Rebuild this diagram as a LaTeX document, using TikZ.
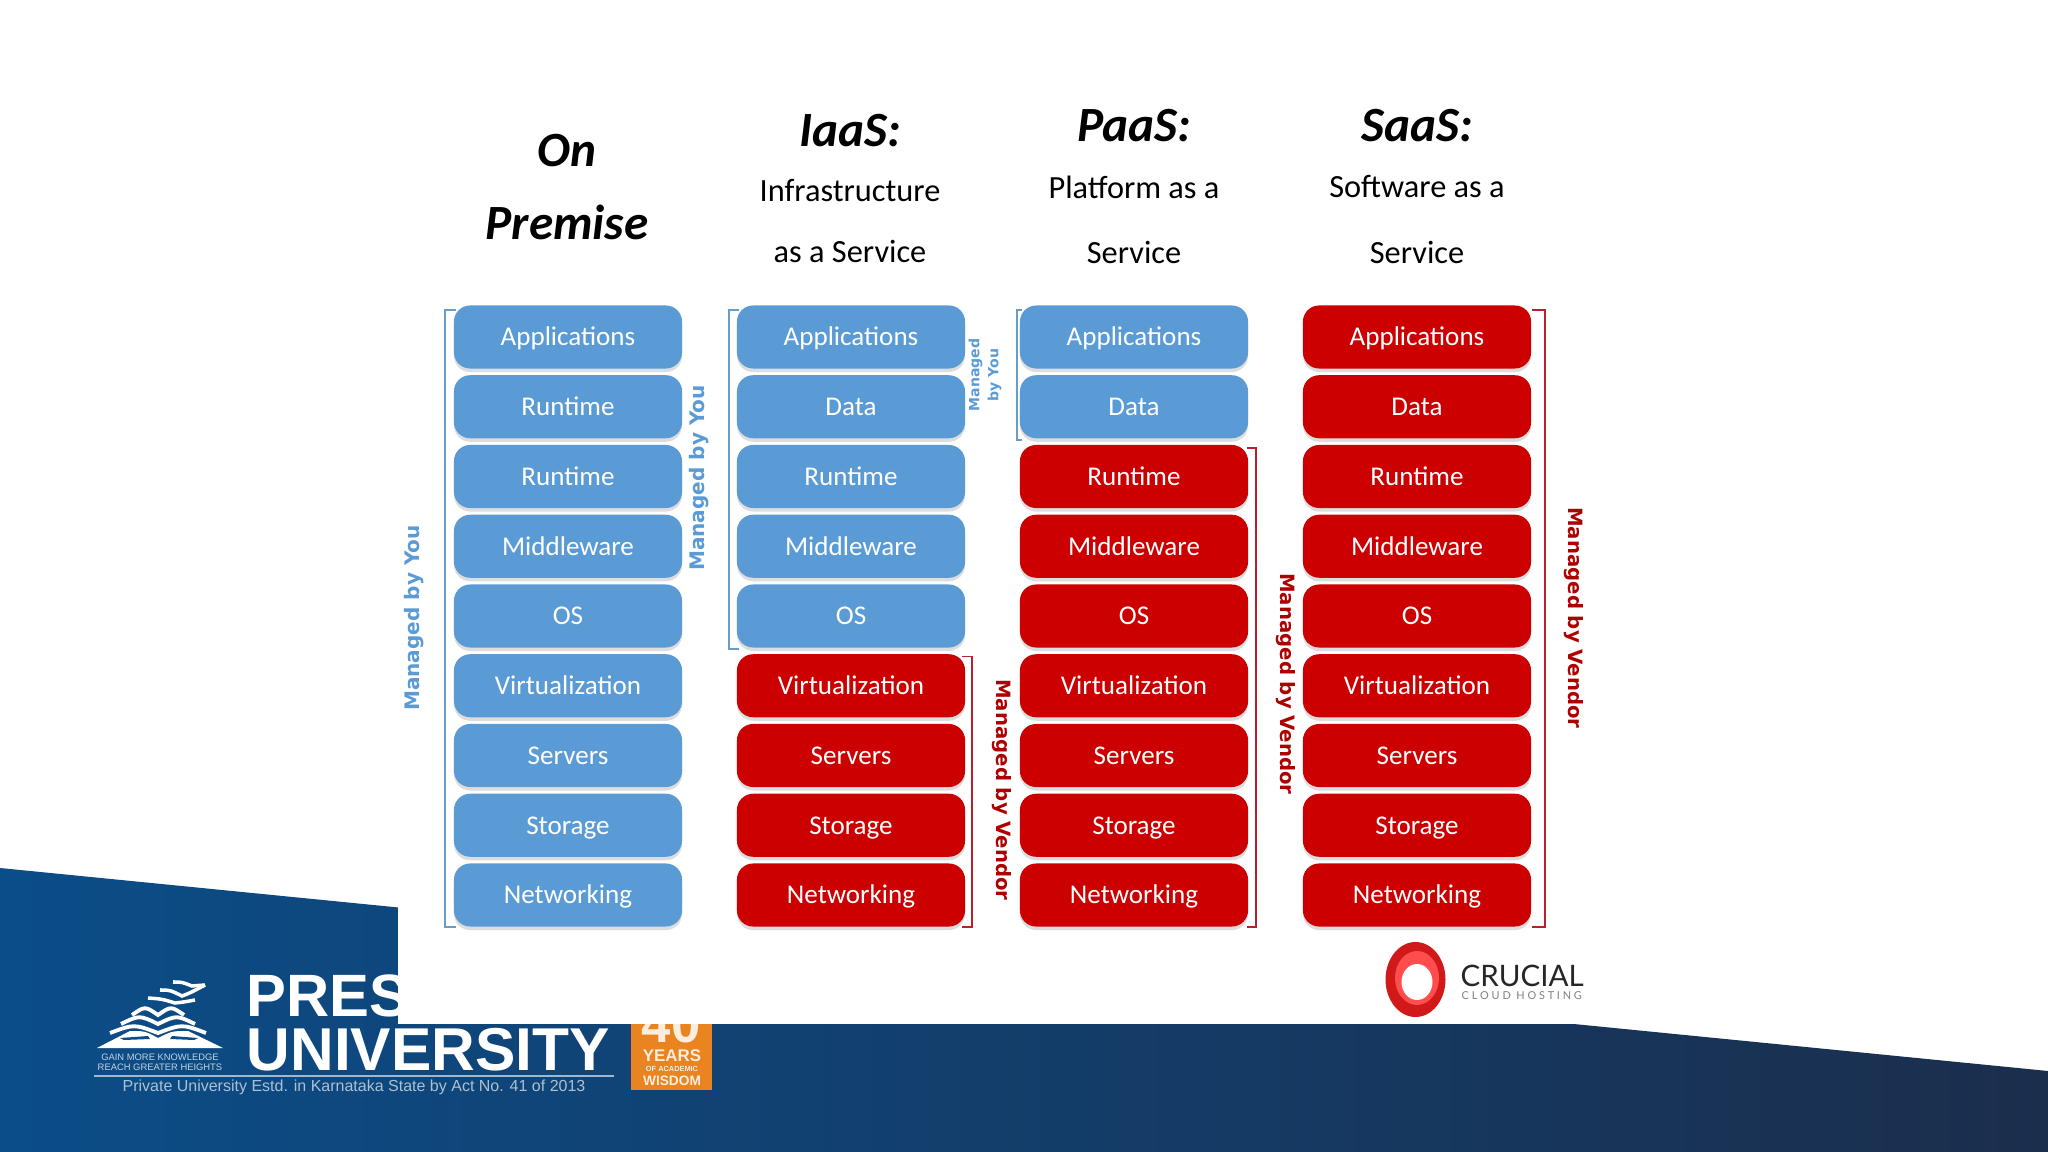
\documentclass[tikz,border=0pt]{standalone}
\usepackage{fontspec}
\setmainfont{Carlito}
\newfontfamily\labelfont{DejaVu Sans}
\newfontfamily\logofont{Liberation Sans}
\newfontfamily\crucialfont{Lato}
\usepackage{xcolor}
\usetikzlibrary{
    arrows.meta,
    positioning,
    shadows
}
\definecolor{youblue}{HTML}{5B9BD5}
\definecolor{vendorred}{HTML}{CC0000}
\definecolor{brktblue}{HTML}{6A9CC8}
\definecolor{brktred}{HTML}{B8202A}
\definecolor{bandleft}{HTML}{0B4D88}
\definecolor{bandmid}{HTML}{0E3F6C}
\definecolor{bandright}{HTML}{1B2E4C}
\definecolor{badgeorange}{HTML}{E98420}

\begin{document}
\begin{tikzpicture}[
        x=0.01cm,
        y=-0.01cm,
        layerbox/.style={
            rectangle,
            rounded corners=4.6pt,
            minimum width=2.28cm,
            minimum height=0.63cm,
            inner sep=0pt,
            text=white,
            text height=6.2pt,
            text depth=1.2pt,
            font=\fontsize{7.7}{8}\selectfont,
            drop shadow={shadow xshift=0pt,shadow yshift=-1pt,opacity=.22,fill=black!60}
        },
        bluebox/.style={layerbox,fill=youblue},
        redbox/.style={layerbox,fill=vendorred},
        headline/.style={font=\fontsize{14}{14}\selectfont\bfseries\itshape},
        subline/.style={font=\fontsize{9.2}{10}\selectfont},
        youline/.style={draw=brktblue,line width=0.45pt},
        vendorline/.style={draw=brktred,line width=0.45pt},
        youtext/.style={text=youblue,font=\labelfont\fontsize{5.7}{6}\selectfont\bfseries,rotate=90},
        vendortext/.style={text=vendorred!85!black,font=\labelfont\fontsize{5.6}{6}\selectfont\bfseries,rotate=-90},
        badgetext/.style={font=\logofont\bfseries,text=white!85!badgeorange,inner sep=0pt}
    ]
        \useasboundingbox (0,0) rectangle (2048,1152);

        % blue band and its logo
        \shade[left color=bandleft,middle color=bandmid,right color=bandright]
            (0,868) -- (2048,1071) -- (2048,1152) -- (0,1152) -- cycle;

        \node[font=\logofont\bfseries\fontsize{17}{17}\selectfont,text=white,anchor=west,inner sep=0pt] (pres) at (246,996) {PRES};
        \node[font=\logofont\bfseries\fontsize{17.2}{17}\selectfont,text=white,anchor=west,inner sep=0pt] (university) at (246,1050) {UNIVERSITY};
        \node[font=\logofont\fontsize{4.55}{5}\selectfont,text=white!65!bandleft,inner sep=0pt] (estd) at (354,1087) {Private University Estd. in Karnataka State by Act No. 41 of 2013};
        \draw[white!60!bandleft,line width=0.5pt] (94,1076) -- (614,1076);
        \node[font=\logofont\fontsize{2.67}{2.85}\selectfont,text=white!75!bandleft,align=center,inner sep=0pt] (gain) at (160,1062) {GAIN MORE KNOWLEDGE\\REACH GREATER HEIGHTS};

        % book and birds
        \fill[white] (97,1048) -- (130,1031) .. controls (145,1031) .. (158,1038) .. controls (172,1031) .. (188,1031) -- (223,1048) -- cycle;
        \foreach \ya/\wa in {1012/26,1021/37,1030/48}
            \draw[white,line width=1.1pt] (158-\wa,\ya+3) .. controls (158-\wa/2,\ya-6) .. (158,\ya+3) .. controls (158+\wa/2,\ya-6) .. (158+\wa,\ya+3);
        \fill[bandleft] (120,1038) -- (148,1036) -- (150,1039) -- (124,1040) -- cycle;
        \fill[bandleft] (172,1036) -- (198,1038) -- (194,1040) -- (170,1039) -- cycle;
        \draw[white,line width=1pt] (148,998) .. controls (162,999) .. (175,1003) .. controls (184,1002) .. (195,1000);
        \draw[white,line width=1pt] (160,990) .. controls (170,990) .. (182,996) .. controls (190,993) .. (205,985);
        \draw[white,line width=1pt] (173,982) .. controls (182,982) .. (192,986) -- (205,985);

        % badge
        \fill[badgeorange] (631,1010) rectangle (712,1090);
        \node[badgetext,font=\logofont\bfseries\fontsize{15}{15}\selectfont] (forty) at (671,1024) {40};
        \node[badgetext,font=\logofont\bfseries\fontsize{4.8}{5}\selectfont] (years) at (672,1056) {YEARS};
        \node[badgetext,font=\logofont\bfseries\fontsize{2.1}{3}\selectfont] (academic) at (672,1069) {OF ACADEMIC};
        \node[badgetext,font=\logofont\bfseries\fontsize{3.9}{4}\selectfont] (wisdom) at (672,1081) {WISDOM};

        % white picture over the band
        \fill[white] (398,860) rectangle (1574,1024);

        % the four stacks
        \foreach \col/\cx/\nblue/\second in {A/568/9/Runtime,B/851/5/Data,C/1134/2/Data,D/1417/0/Data} {
            \foreach \lbl [count=\i, evaluate=\i as \rowy using 337+69.75*(\i-1)] in
                {Applications,\second,Runtime,Middleware,OS,Virtualization,Servers,Storage,Networking} {
                \ifnum\i>\nblue \def\boxstyle{redbox}\else \def\boxstyle{bluebox}\fi
                \node[\boxstyle] (\col\i) at (\cx,\rowy) {\lbl};
            }
        }

        % titles
        \node[headline] (onhead) at (567,151) {On};
        \node[headline] (premhead) at (567,222) {Premise};
        \node[headline] (iaashead) at (850,131) {IaaS:};
        \node[subline] (iaasa) at (850,191) {Infrastructure};
        \node[subline] (iaasb) at (850,251) {as a Service};
        \node[headline] (paashead) at (1134,126) {PaaS:};
        \node[subline] (paasa) at (1134,187) {Platform as a};
        \node[subline] (paasb) at (1134,252) {Service};
        \node[headline] (saashead) at (1417,126) {SaaS:};
        \node[subline] (saasa) at (1417,187) {Software as a};
        \node[subline] (saasb) at (1417,252) {Service};

        % brackets
        \draw[youline] ([shift={(3,5)}]A1.north west) -- ++(-11,0) |- ([shift={(3,0)}]A9.south west);
        \draw[youline] ([shift={(3,5)}]B1.north west) -- ++(-10,0) |- ([shift={(3,1)}]B5.south west);
        \draw[youline] ([shift={(3,5)}]C1.north west) -- ++(-5,0) |- ([shift={(3,1)}]C2.south west);
        \draw[vendorline] ([shift={(-4,3)}]B6.north east) -- ++(10,0) |- ([shift={(-4,0)}]B9.south east);
        \draw[vendorline] ([shift={(-2,4)}]C3.north east) -- ++(9,0) |- ([shift={(-2,0)}]C9.south east);
        \draw[vendorline] ([shift={(0,5)}]D1.north east) -- ++(13,0) |- ([shift={(0,0)}]D9.south east);

        % side labels
        \node[youtext] (youA) at (414,618) {Managed by You};
        \node[youtext] (youAb) at (699,478) {Managed by You};
        \node[youtext,font=\labelfont\fontsize{4}{5.4}\selectfont\bfseries,align=center] (youB) at (985,375) {Managed\\by You};
        \node[vendortext] (vendB) at (1002,790) {Managed by Vendor};
        \node[vendortext] (vendC) at (1286,684) {Managed by Vendor};
        \node[vendortext] (vendD) at (1574,618) {Managed by Vendor};

        % crucial logo
        \fill[vendorred!90!white] (1415.5,979.5) ellipse [x radius=30,y radius=37.5];
        \fill[red!70!white] (1417,978) ellipse [x radius=22,y radius=27];
        \fill[white] (1417,982) ellipse [x radius=15.5,y radius=18];
        \node[font=\crucialfont\fontsize{8.4}{9}\selectfont,text=black!85,anchor=west,inner sep=0pt] (crucial) at (1460,976) {CRUCIAL};
        \node[font=\crucialfont\fontsize{3.1}{4}\selectfont,text=black!50,anchor=west,inner sep=0pt] (hosting) at (1461,996) {C L O U D\ \ H O S T I N G};
    \end{tikzpicture}
\end{document}
